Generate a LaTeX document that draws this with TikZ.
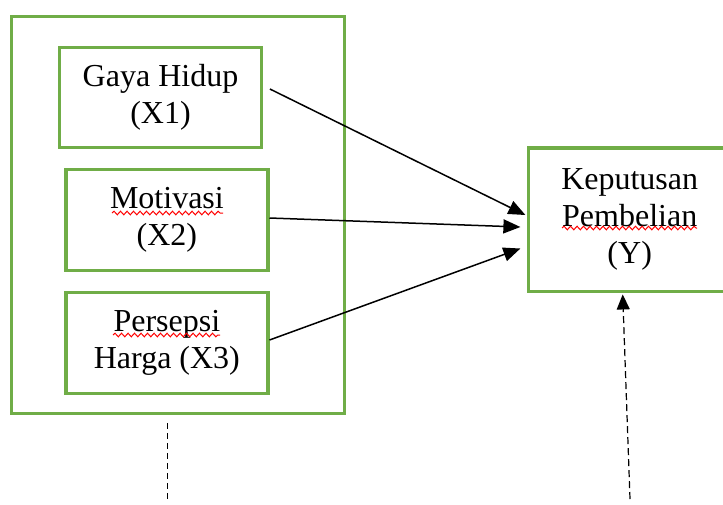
\documentclass[tikz,border=0pt]{standalone}
\usepackage{fontspec}
\setmainfont{Liberation Serif}
\usetikzlibrary{arrows.meta,decorations.pathmorphing}
\definecolor{boxgreen}{HTML}{70AD47}
\begin{document}
\begin{tikzpicture}[x=1pt,y=-1pt,
  frame/.style={draw=boxgreen,line width=3.2pt,inner sep=0pt},
  varbox/.style={frame,align=center,minimum width=202pt,
    font=\fontsize{32}{37}\selectfont},
  link/.style={line width=1.5pt,-{Triangle[length=17pt,width=14pt]}},
  guide/.style={line width=1.2pt,dash pattern=on 7pt off 4pt},
  spell/.style={draw=red,line width=1pt,decorate,
    decoration={snake,amplitude=1.8pt,segment length=6.5pt}}]
\clip (0,0) rectangle (723,504);
\fill[white] (0,0) rectangle (723,504);

% group frame around the independent variables
\node[frame,minimum width=333pt,minimum height=397.5pt] (group) at (178,215) {};

% independent variables
\node[varbox,minimum height=100pt] (x1) at (160.5,97.2) {Gaya Hidup\\(X1)};
\node[varbox,minimum height=100.5pt] (x2) at (166.9,220) {Motivasi\\(X2)};
\node[varbox,minimum height=101.4pt] (x3) at (166.9,343) {Persepsi\\Harga (X3)};

% dependent variable
\node[varbox,minimum height=143.3pt] (y) at (629.7,219.7) {Keputusan\\Pembelian\\(Y)};

% spell-check squiggles under the flagged words
\draw[spell] (112,213) -- (223,213);
\draw[spell] (113,335) -- (220,335);
\draw[spell] (562,228) -- (697,228);

% direct effects
\draw[link] ([xshift=6.8pt,yshift=8.2pt]x1.east) -- ([xshift=-1.7pt,yshift=4.7pt]y.west);
\draw[link] ([yshift=2pt]x2.east) -- ([xshift=-6.7pt,yshift=-7.3pt]y.west);
\draw[link] ([yshift=3pt]x3.east) -- ([xshift=-6.7pt,yshift=-28.8pt]y.west);

% dashed guides
\coordinate (gtop) at (167.5,423);
\coordinate (gbot) at (167.5,501);
\draw[guide,dash pattern=on 6pt off 4pt] (gtop) -- (gbot);
\coordinate (ebot) at (630,499);
\draw[guide,-{Triangle[length=15pt,width=13pt]}] (ebot) -- ([xshift=-7pt,yshift=-1.5pt]y.south);
\end{tikzpicture}
\end{document}
